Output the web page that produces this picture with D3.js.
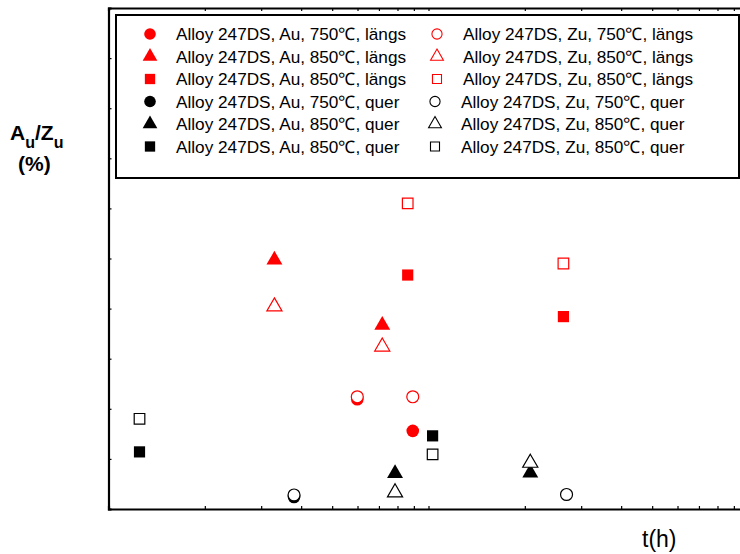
<!DOCTYPE html>
<html><head><meta charset="utf-8">
<script src="https://cdn.jsdelivr.net/npm/d3@7"></script>
<style>body{margin:0;background:#fff}svg{display:block}text{font-family:"Liberation Sans",Arial,sans-serif}</style>
</head><body><svg id="c" width="740" height="554"></svg>
<script>
// Series: [time (h), A_u/Z_u (%)]
const auLaengs750 = [[5.99,21.9],[8.93,15.6]];
const zuLaengs750 = [[5.99,22.4],[8.93,22.4]];
const auLaengs850Tri = [[3.30,49.7],[7.17,36.7]];
const zuLaengs850Tri = [[3.30,40.4],[7.17,32.4]];
const auLaengs850Sq = [[8.61,46.7],[26.4,38.4]];
const zuLaengs850Sq = [[8.61,61.0],[26.4,49.0]];
const auQuer750 = [[3.80,2.4]];
const zuQuer750 = [[3.80,2.8],[27.0,2.9]];
const auQuer850Tri = [[7.86,7.1],[20.8,7.2]];
const zuQuer850Tri = [[7.86,3.3],[20.8,9.2]];
const auQuer850Sq = [[1.25,11.4],[10.3,14.6]];
const zuQuer850Sq = [[1.25,18.0],[10.3,10.9]];

const legendLabels = [
 "Alloy 247DS, Au, 750\u2103, längs","Alloy 247DS, Zu, 750\u2103, längs",
 "Alloy 247DS, Au, 850\u2103, längs","Alloy 247DS, Zu, 850\u2103, längs",
 "Alloy 247DS, Au, 850\u2103, längs","Alloy 247DS, Zu, 850\u2103, längs",
 "Alloy 247DS, Au, 750\u2103, quer","Alloy 247DS, Zu, 750\u2103, quer",
 "Alloy 247DS, Au, 850\u2103, quer","Alloy 247DS, Zu, 850\u2103, quer",
 "Alloy 247DS, Au, 850\u2103, quer","Alloy 247DS, Zu, 850\u2103, quer"];

const series = [
 {d:auLaengs750, sym:d3.symbolCircle, col:"#ff0000", open:false},
 {d:zuLaengs750, sym:d3.symbolCircle, col:"#ff0000", open:true},
 {d:auLaengs850Tri, sym:d3.symbolTriangle, col:"#ff0000", open:false},
 {d:zuLaengs850Tri, sym:d3.symbolTriangle, col:"#ff0000", open:true},
 {d:auLaengs850Sq, sym:d3.symbolSquare, col:"#ff0000", open:false},
 {d:zuLaengs850Sq, sym:d3.symbolSquare, col:"#ff0000", open:true},
 {d:auQuer750, sym:d3.symbolCircle, col:"#000000", open:false},
 {d:zuQuer750, sym:d3.symbolCircle, col:"#000000", open:true},
 {d:auQuer850Tri, sym:d3.symbolTriangle, col:"#000000", open:false},
 {d:zuQuer850Tri, sym:d3.symbolTriangle, col:"#000000", open:true},
 {d:auQuer850Sq, sym:d3.symbolSquare, col:"#000000", open:false},
 {d:zuQuer850Sq, sym:d3.symbolSquare, col:"#000000", open:true}
];
series.forEach((s,i)=>s.label=legendLabels[i]);

const svg = d3.select("#c");
const L=108.5, R=748.5, T=8, B=509;
const x = d3.scaleLog().domain([1,100]).range([L,R]);
const y = d3.scaleLinear().domain([0,100]).range([B,T]);

const sizeOf = s => s===d3.symbolCircle?125:(s===d3.symbolTriangle?110:125);

// axes
svg.append("g").attr("transform",`translate(0,${B})`)
 .call(d3.axisTop(x).tickValues(d3.range(1,10).concat(d3.range(10,101,10))).tickSize(3).tickFormat(""))
 .call(g=>g.select(".domain").attr("stroke-width",2.2));
svg.append("g").attr("transform",`translate(0,${T})`)
 .call(d3.axisBottom(x).tickValues(d3.range(1,10).concat(d3.range(10,101,10))).tickSize(3).tickFormat(""))
 .call(g=>g.select(".domain").attr("stroke-width",2.2));
svg.append("g").attr("transform",`translate(${L},0)`)
 .call(d3.axisRight(y).ticks(10).tickSize(3).tickFormat(""))
 .call(g=>g.select(".domain").attr("stroke-width",2.2));
svg.selectAll(".tick line").attr("stroke","#000").attr("stroke-width",1.2);
svg.selectAll(".domain").attr("stroke","#000");

// points: filled first, open on top
const ordered = series.filter(s=>!s.open).concat(series.filter(s=>s.open));
ordered.forEach(s=>{
  svg.append("g").selectAll("path").data(s.d).join("path")
   .attr("transform",d=>`translate(${x(d[0])},${y(d[1])})`)
   .attr("d",d3.symbol(s.sym, s.open? sizeOf(s.sym)*0.9 : sizeOf(s.sym)))
   .attr("fill", s.open?"#fff":s.col)
   .attr("stroke", s.open?s.col:"none")
   .attr("stroke-width",1.2);
});

// legend
const lg = svg.append("g");
lg.append("rect").attr("x",116).attr("y",15).attr("width",623).attr("height",163)
  .attr("fill","#fff").attr("stroke","#000").attr("stroke-width",2);
series.forEach((s,i)=>{
  const row=Math.floor(i/2), colI=i%2;
  const cy = 34 + row*22.5;
  const mx = colI===0?150:(row<3?437:435);
  const tx = colI===0?176:(row<3?463:461);
  lg.append("path").attr("transform",`translate(${mx},${cy})`)
    .attr("d",d3.symbol(s.sym, s.open? sizeOf(s.sym)*0.65 : sizeOf(s.sym)*0.85))
    .attr("fill", s.open?"#fff":s.col).attr("stroke", s.open?s.col:"none").attr("stroke-width",1.1);
  lg.append("text").attr("x",tx).attr("y",cy+6).attr("font-size",17.2).attr("fill","#000").text(s.label);
});

// axis titles
const yl = svg.append("text").attr("x",10).attr("y",140).attr("font-size",21).attr("font-weight","bold");
yl.append("tspan").text("A");
yl.append("tspan").attr("dy",8).attr("font-size",16).text("u");
yl.append("tspan").attr("dy",-8).text("/Z");
yl.append("tspan").attr("dy",8).attr("font-size",16).text("u");
svg.append("text").attr("x",18).attr("y",171).attr("font-size",21).attr("font-weight","bold").text("(%)");
svg.append("text").attr("x",642).attr("y",547).attr("font-size",23).text("t(h)");
</script></body></html>
